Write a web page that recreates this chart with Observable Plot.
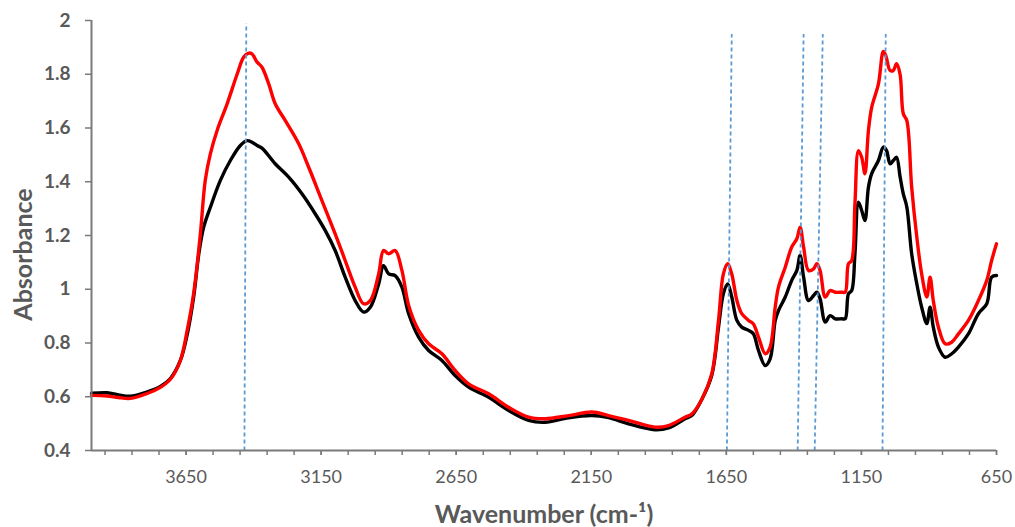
<!DOCTYPE html>
<html>
<head>
<meta charset="utf-8">
<script src="https://cdn.jsdelivr.net/npm/d3@7"></script>
<script src="https://cdn.jsdelivr.net/npm/@observablehq/plot@0.6"></script>
<style>
  body { margin: 0; background: #ffffff; }
</style>
</head>
<body>
<div id="chart"></div>
<script>
// Black spectrum
const blackWavenumber = [4000, 3942, 3900, 3856, 3794, 3745, 3708, 3671, 3646, 3622, 3603, 3585, 3560, 3523, 3486, 3449, 3424, 3406, 3387, 3369, 3320, 3270, 3221, 3172, 3135, 3098, 3061, 3024, 2993, 2968, 2937, 2919, 2900, 2876, 2851, 2826, 2789, 2752, 2703, 2654, 2604, 2530, 2456, 2382, 2321, 2234, 2148, 2086, 2012, 1914, 1864, 1803, 1778, 1741, 1704, 1679, 1661, 1645, 1630, 1611, 1593, 1568, 1550, 1531, 1506, 1488, 1469, 1457, 1432, 1408, 1389, 1377, 1364, 1346, 1327, 1315, 1303, 1284, 1266, 1247, 1222, 1210, 1198, 1186, 1174, 1161, 1149, 1137, 1124, 1112, 1087, 1069, 1057, 1044, 1032, 1020, 1007, 995, 982, 964, 945, 927, 908, 896, 884, 865, 840, 816, 791, 754, 717, 686, 668, 650];
const blackAbsorbance = [0.613, 0.615, 0.607, 0.602, 0.618, 0.638, 0.668, 0.735, 0.83, 0.97, 1.13, 1.23, 1.305, 1.405, 1.479, 1.535, 1.553, 1.547, 1.535, 1.525, 1.467, 1.417, 1.355, 1.281, 1.219, 1.144, 1.045, 0.958, 0.915, 0.933, 1.02, 1.088, 1.057, 1.051, 1.008, 0.909, 0.822, 0.772, 0.735, 0.679, 0.636, 0.598, 0.549, 0.512, 0.505, 0.522, 0.53, 0.522, 0.499, 0.477, 0.484, 0.518, 0.53, 0.59, 0.68, 0.859, 0.983, 1.02, 0.971, 0.884, 0.859, 0.847, 0.834, 0.772, 0.716, 0.741, 0.884, 0.921, 0.971, 1.033, 1.07, 1.126, 1.045, 0.958, 0.977, 0.989, 0.964, 0.878, 0.902, 0.89, 0.89, 0.89, 0.983, 0.995, 1.132, 1.324, 1.293, 1.256, 1.38, 1.43, 1.479, 1.529, 1.516, 1.467, 1.479, 1.491, 1.419, 1.355, 1.306, 1.132, 1.02, 0.933, 0.872, 0.933, 0.859, 0.785, 0.747, 0.76, 0.785, 0.834, 0.909, 0.946, 1.045, 1.051];

// Red spectrum
const redWavenumber = [4000, 3942, 3900, 3856, 3794, 3745, 3708, 3671, 3646, 3622, 3597, 3579, 3560, 3535, 3498, 3461, 3437, 3420, 3406, 3387, 3369, 3344, 3320, 3283, 3233, 3196, 3147, 3098, 3061, 3024, 2993, 2968, 2937, 2919, 2900, 2876, 2851, 2826, 2789, 2752, 2703, 2654, 2604, 2530, 2456, 2382, 2321, 2234, 2148, 2086, 2012, 1914, 1864, 1803, 1778, 1741, 1704, 1679, 1661, 1645, 1630, 1611, 1593, 1568, 1550, 1531, 1506, 1488, 1469, 1457, 1432, 1408, 1389, 1377, 1364, 1346, 1327, 1315, 1303, 1284, 1266, 1247, 1222, 1210, 1198, 1186, 1174, 1161, 1149, 1137, 1124, 1112, 1087, 1069, 1060, 1044, 1032, 1020, 1007, 995, 982, 964, 945, 927, 908, 896, 884, 865, 840, 816, 791, 754, 717, 686, 668, 650];
const redAbsorbance = [0.605, 0.603, 0.597, 0.594, 0.612, 0.635, 0.665, 0.735, 0.846, 0.983, 1.206, 1.405, 1.504, 1.591, 1.69, 1.8, 1.863, 1.878, 1.876, 1.845, 1.826, 1.764, 1.69, 1.628, 1.541, 1.454, 1.33, 1.206, 1.107, 1.008, 0.946, 0.958, 1.057, 1.144, 1.132, 1.144, 1.07, 0.94, 0.847, 0.797, 0.76, 0.698, 0.648, 0.611, 0.561, 0.524, 0.518, 0.53, 0.543, 0.53, 0.512, 0.487, 0.493, 0.524, 0.536, 0.59, 0.685, 0.884, 1.057, 1.095, 1.057, 0.958, 0.909, 0.884, 0.871, 0.822, 0.76, 0.785, 0.935, 1.008, 1.082, 1.157, 1.188, 1.231, 1.157, 1.07, 1.076, 1.095, 1.07, 0.971, 0.995, 0.989, 0.989, 0.989, 1.095, 1.107, 1.318, 1.516, 1.491, 1.43, 1.591, 1.677, 1.764, 1.885, 1.87, 1.814, 1.814, 1.839, 1.8, 1.653, 1.628, 1.38, 1.194, 1.057, 0.971, 1.045, 0.958, 0.859, 0.797, 0.803, 0.834, 0.884, 0.958, 1.033, 1.107, 1.169];

// Dashed marker lines (wavenumber at bottom / at top, absorbance at top)
const markerBottomWavenumber = [3434, 1648, 1386, 1323, 1072];
const markerTopWavenumber = [3427, 1630, 1364, 1293, 1060];
const markerTopAbsorbance = [1.99, 1.95, 1.95, 1.95, 1.95];

// Axis ticks
const xMajorTicks = [3650, 3150, 2650, 2150, 1650, 1150, 650];
const xMinorTicks = d3.range(650, 4000, 100);
const yTicks = [0.4, 0.6, 0.8, 1, 1.2, 1.4, 1.6, 1.8, 2];
const xDomain = [4000, 650];
const yDomain = [0.4, 2];

const xTitle = "Wavenumber (cm-¹)";
const yTitle = "Absorbance";

const black = blackWavenumber.map((w, i) => ({wn: w, abs: blackAbsorbance[i]}));
const red = redWavenumber.map((w, i) => ({wn: w, abs: redAbsorbance[i]}));
const markers = markerBottomWavenumber.map((w, i) => ({
  x1: w, x2: markerTopWavenumber[i], y1: yDomain[0], y2: markerTopAbsorbance[i]
}));

const axisColor = "#7a7a7a";
const textColor = "#595959";

const chart = Plot.plot({
  width: 1015,
  height: 527,
  marginLeft: 91,
  marginRight: 19,
  marginTop: 20,
  marginBottom: 77,
  style: {fontFamily: "Lato, 'Open Sans', sans-serif", color: textColor, background: "#ffffff", fontSize: "18px"},
  x: {domain: xDomain},
  y: {domain: yDomain},
  marks: [
    Plot.line(black, {x: "wn", y: "abs", stroke: "#000000", strokeWidth: 3.4, curve: "catmull-rom"}),
    Plot.line(red, {x: "wn", y: "abs", stroke: "#ff0000", strokeWidth: 3.4, curve: "catmull-rom"}),
    Plot.link(markers, {x1: "x1", x2: "x2", y1: "y1", y2: "y2", stroke: "#5b9bd5", strokeWidth: 1.8, strokeDasharray: "4,3"}),
    Plot.axisX({ticks: xMinorTicks, tickFormat: () => "", tickSize: 5, stroke: axisColor, strokeWidth: 1.5, label: null}),
    Plot.axisX({ticks: xMajorTicks, tickFormat: d3.format("d"), tickSize: 5, tickPadding: 15, stroke: axisColor, strokeWidth: 1.5, fill: textColor, fontSize: 18, label: null}),
    Plot.axisY({ticks: yTicks, tickFormat: d3.format("~g"), tickSize: 6, tickPadding: 15, stroke: axisColor, strokeWidth: 1.5, fill: textColor, fontSize: 19, fontWeight: "bold", label: null}),
    Plot.ruleY([yDomain[0]], {stroke: axisColor, strokeWidth: 2}),
    Plot.ruleX([xDomain[0]], {stroke: axisColor, strokeWidth: 2}),
    Plot.text([xTitle], {frameAnchor: "bottom", textAnchor: "middle", lineAnchor: "bottom", dy: 72, fontSize: 25, fontWeight: "bold", fill: textColor}),
    Plot.text([yTitle], {frameAnchor: "left", textAnchor: "middle", dx: -68, dy: 19, rotate: -90, fontSize: 25, fontWeight: "bold", fill: textColor})
  ]
});
document.getElementById("chart").appendChild(chart);
</script>
</body>
</html>
